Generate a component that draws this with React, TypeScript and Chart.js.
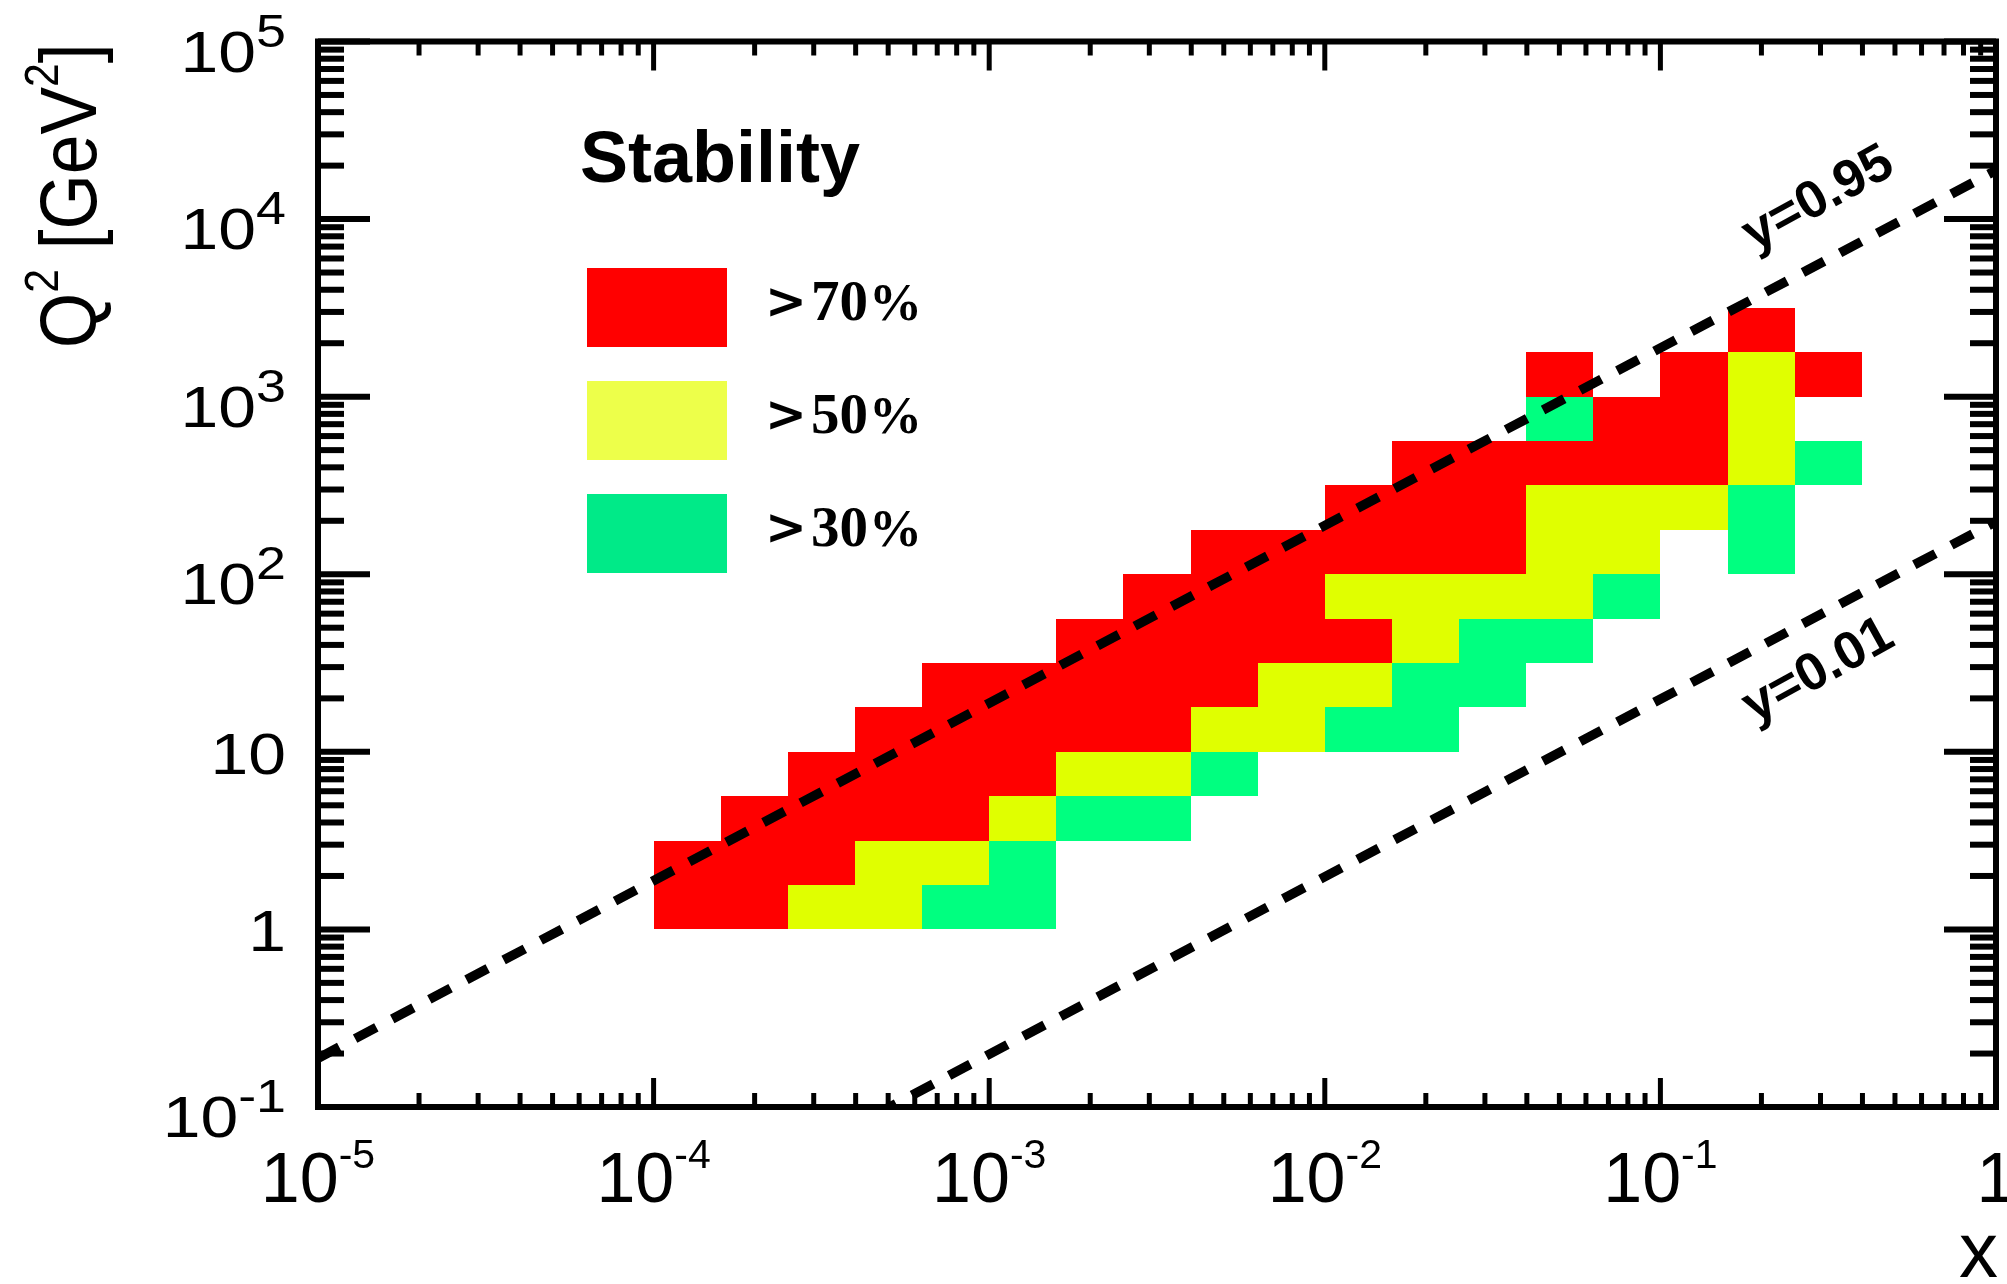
import { useEffect, useRef } from 'react';
import { Chart, registerables } from 'chart.js';

Chart.register(...registerables);

// Bjorken-x bin edges (5 bins per decade)
const xBinEdges = [
  1.0e-4, 1.585e-4, 2.512e-4, 3.981e-4, 6.31e-4,
  1.0e-3, 1.585e-3, 2.512e-3, 3.981e-3, 6.31e-3,
  1.0e-2, 1.585e-2, 2.512e-2, 3.981e-2, 6.31e-2,
  1.0e-1, 1.585e-1, 2.512e-1, 3.981e-1,
];

// Q^2 bin edges in GeV^2 (4 bins per decade)
const q2BinEdges = [
  1, 1.778, 3.162, 5.623, 10, 17.78, 31.62, 56.23, 100, 177.8, 316.2, 562.3, 1000, 1778, 3162,
];

// Stability class per cell, one row per Q^2 bin (lowest first), one entry per x bin.
// 3: > 70 %, 2: > 50 %, 1: > 30 %, 0: empty
const stabilityRows = [
  [3, 3, 2, 2, 1, 1, 0, 0, 0, 0, 0, 0, 0, 0, 0, 0, 0, 0],
  [3, 3, 3, 2, 2, 1, 0, 0, 0, 0, 0, 0, 0, 0, 0, 0, 0, 0],
  [0, 3, 3, 3, 3, 2, 1, 1, 0, 0, 0, 0, 0, 0, 0, 0, 0, 0],
  [0, 0, 3, 3, 3, 3, 2, 2, 1, 0, 0, 0, 0, 0, 0, 0, 0, 0],
  [0, 0, 0, 3, 3, 3, 3, 3, 2, 2, 1, 1, 0, 0, 0, 0, 0, 0],
  [0, 0, 0, 0, 3, 3, 3, 3, 3, 2, 2, 1, 1, 0, 0, 0, 0, 0],
  [0, 0, 0, 0, 0, 0, 3, 3, 3, 3, 3, 2, 1, 1, 0, 0, 0, 0],
  [0, 0, 0, 0, 0, 0, 0, 3, 3, 3, 2, 2, 2, 2, 1, 0, 0, 0],
  [0, 0, 0, 0, 0, 0, 0, 0, 3, 3, 3, 3, 3, 2, 2, 0, 1, 0],
  [0, 0, 0, 0, 0, 0, 0, 0, 0, 0, 3, 3, 3, 2, 2, 2, 1, 0],
  [0, 0, 0, 0, 0, 0, 0, 0, 0, 0, 0, 3, 3, 3, 3, 3, 2, 1],
  [0, 0, 0, 0, 0, 0, 0, 0, 0, 0, 0, 0, 0, 1, 3, 3, 2, 0],
  [0, 0, 0, 0, 0, 0, 0, 0, 0, 0, 0, 0, 0, 3, 0, 3, 2, 3],
  [0, 0, 0, 0, 0, 0, 0, 0, 0, 0, 0, 0, 0, 0, 0, 0, 3, 0],
];

const cellColors: Record<number, string> = { 3: '#ff0000', 2: '#e0ff00', 1: '#00ff80' };
const legendThresholds = ['70', '50', '30'];
const legendColors = ['#ff0000', '#edff4a', '#00ea88'];
const legendTitle = 'Stability';

// Beam energies (GeV) and inelasticity limits for the kinematic lines Q^2 = s x y
const electronEnergy = 18;
const protonEnergy = 275;
const inelasticityCuts = [0.95, 0.01];
const inelasticityLabels = ['y=0.95', 'y=0.01'];

const xRange = [1e-5, 1];
const q2Range = [0.1, 1e5];
const xTickValues = [1e-5, 1e-4, 1e-3, 1e-2, 1e-1, 1];
const xTickBases = ['10', '10', '10', '10', '10', '1'];
const xTickExponents = ['-5', '-4', '-3', '-2', '-1', ''];
const q2TickValues = [0.1, 1, 10, 100, 1e3, 1e4, 1e5];
const q2TickBases = ['10', '1', '10', '10', '10', '10', '10'];
const q2TickExponents = ['-1', '', '', '2', '3', '4', '5'];

const SANS = '"Liberation Sans", Arial, Helvetica, sans-serif';
const SERIF = '"Liberation Serif", "Times New Roman", serif';

const sMandelstam = 4 * electronEnergy * protonEnergy;

function drawPower(
  ctx: CanvasRenderingContext2D,
  x: number,
  baseline: number,
  base: string,
  exp: string,
  o: { fs: number; supFs: number; raise: number; sx: number; sy: number; align: 'center' | 'right' },
) {
  ctx.save();
  const baseFont = `${o.fs}px ${SANS}`;
  const supFont = `${o.supFs}px ${SANS}`;
  ctx.font = baseFont;
  const bw = ctx.measureText(base).width;
  ctx.font = supFont;
  const ew = exp ? ctx.measureText(exp).width : 0;
  const total = (bw + ew) * o.sx;
  const left = o.align === 'center' ? x - total / 2 : x - total;
  ctx.translate(left, baseline);
  ctx.scale(o.sx, o.sy);
  ctx.fillStyle = '#000';
  ctx.textAlign = 'left';
  ctx.textBaseline = 'alphabetic';
  ctx.font = baseFont;
  ctx.fillText(base, 0, 0);
  if (exp) {
    ctx.font = supFont;
    ctx.fillText(exp, bw, -o.raise / o.sy);
  }
  ctx.restore();
}

const cellPlugin = {
  id: 'stabilityCells',
  beforeDatasetsDraw(chart: any) {
    const { ctx, scales } = chart;
    const xs = scales.x;
    const ys = scales.y;
    ctx.save();
    stabilityRows.forEach((row, j) => {
      row.forEach((level, i) => {
        if (!level) return;
        const x0 = Math.round(xs.getPixelForValue(xBinEdges[i]));
        const x1 = Math.round(xs.getPixelForValue(xBinEdges[i + 1]));
        const y0 = Math.round(ys.getPixelForValue(q2BinEdges[j]));
        const y1 = Math.round(ys.getPixelForValue(q2BinEdges[j + 1]));
        ctx.fillStyle = cellColors[level];
        ctx.fillRect(x0, y1, x1 - x0, y0 - y1);
      });
    });
    ctx.restore();
  },
};

const framePlugin = {
  id: 'rootFrame',
  afterDraw(chart: any) {
    const { ctx, chartArea: a, scales } = chart;
    const xs = scales.x;
    const ys = scales.y;
    ctx.save();
    ctx.strokeStyle = '#000';
    ctx.lineCap = 'butt';
    const seg = (x1: number, y1: number, x2: number, y2: number) => {
      ctx.beginPath();
      ctx.moveTo(x1, y1);
      ctx.lineTo(x2, y2);
      ctx.stroke();
    };

    // Q^2 axis ticks (left and right)
    ctx.lineWidth = 6;
    for (let e = -1; e <= 5; e++) {
      for (let m = 1; m <= 9; m++) {
        const v = m * Math.pow(10, e);
        if (v < q2Range[0] * 0.999 || v > q2Range[1] * 1.001) continue;
        const py = ys.getPixelForValue(v);
        const len = m === 1 ? 52 : 26;
        seg(a.left, py, a.left + len, py);
        seg(a.right, py, a.right - len, py);
      }
    }
    // x axis ticks (bottom and top)
    ctx.lineWidth = 5;
    for (let e = -5; e <= 0; e++) {
      for (let m = 1; m <= 9; m++) {
        const v = m * Math.pow(10, e);
        if (v < xRange[0] * 0.999 || v > xRange[1] * 1.001) continue;
        const px = xs.getPixelForValue(v);
        const len = m === 1 ? 29 : 14;
        seg(px, a.bottom, px, a.bottom - len);
        seg(px, a.top, px, a.top + len);
      }
    }
    // frame
    ctx.lineWidth = 6;
    ctx.lineJoin = 'miter';
    ctx.strokeRect(a.left, a.top, a.right - a.left, a.bottom - a.top);

    // x tick labels
    xTickValues.forEach((v, k) => {
      drawPower(ctx, xs.getPixelForValue(v), 1202, xTickBases[k], xTickExponents[k], {
        fs: 70, supFs: 41, raise: 34, sx: 1, sy: 1, align: 'center',
      });
    });
    // Q^2 tick labels
    q2TickValues.forEach((v, k) => {
      const py = ys.getPixelForValue(v);
      const hasExp = q2TickExponents[k] !== '';
      drawPower(ctx, a.left - 32, py + (hasExp ? 30 : 22), q2TickBases[k], q2TickExponents[k], {
        fs: 58, supFs: 46, raise: 25, sx: 1.17, sy: 1, align: 'right',
      });
    });

    // axis titles
    ctx.fillStyle = '#000';
    ctx.font = `78px ${SANS}`;
    ctx.textAlign = 'right';
    ctx.textBaseline = 'alphabetic';
    ctx.fillText('x', a.right + 2, 1277);

    ctx.save();
    ctx.translate(96, a.top + 2);
    ctx.rotate(-Math.PI / 2);
    ctx.scale(0.89, 1);
    const big = `80px ${SANS}`;
    const sup = `48px ${SANS}`;
    const parts: [string, boolean][] = [['Q', false], ['2', true], [' [GeV', false], ['2', true], [']', false]];
    let total = 0;
    parts.forEach(([t, s]) => { ctx.font = s ? sup : big; total += ctx.measureText(t).width; });
    let cx = -total;
    ctx.textAlign = 'left';
    parts.forEach(([t, s]) => {
      ctx.font = s ? sup : big;
      ctx.fillText(t, cx, s ? -38 : 0);
      cx += ctx.measureText(t).width;
    });
    ctx.restore();

    // kinematic line labels
    inelasticityCuts.forEach((yc, k) => {
      const xa = 0.3;
      const px = xs.getPixelForValue(xa);
      const py = ys.getPixelForValue(sMandelstam * yc * xa);
      const off = k === 0 ? -64 : 57;
      ctx.save();
      ctx.translate(px - 2, py + off);
      ctx.rotate((-29 * Math.PI) / 180);
      ctx.font = `bold 53px ${SANS}`;
      ctx.textAlign = 'center';
      ctx.textBaseline = 'middle';
      ctx.fillText(inelasticityLabels[k], 0, 0);
      ctx.restore();
    });

    // legend
    ctx.font = `bold 72px ${SANS}`;
    ctx.textAlign = 'left';
    ctx.textBaseline = 'alphabetic';
    ctx.fillText(legendTitle, 580, 182);
    const boxTops = [268, 381, 494];
    legendThresholds.forEach((pct, k) => {
      const top = boxTops[k];
      const base = top + 52;
      ctx.fillStyle = legendColors[k];
      ctx.fillRect(587, top, 140, 79);
      ctx.fillStyle = '#000';
      ctx.font = `bold 50px "DejaVu Sans", ${SANS}`;
      ctx.fillText('>', 765, base - 2);
      ctx.font = `bold 57px ${SERIF}`;
      ctx.fillText(pct, 811, base);
      ctx.font = `bold 53px ${SERIF}`;
      ctx.fillText('%', 869, base);
    });

    ctx.restore();
  },
};

export default function App() {
  const canvasRef = useRef<HTMLCanvasElement | null>(null);

  useEffect(() => {
    const canvas = canvasRef.current;
    if (!canvas) return;
    const lineData = inelasticityCuts.map((yc) =>
      xRange.map((x) => ({ x, y: sMandelstam * yc * x })),
    );
    const chart = new Chart(canvas, {
      type: 'scatter',
      data: {
        datasets: lineData.map((pts, k) => ({
          label: inelasticityLabels[k],
          data: pts,
          showLine: true,
          borderColor: '#000',
          borderWidth: 9.5,
          borderDash: [24, 18],
          borderCapStyle: 'butt',
          pointRadius: 0,
          fill: false,
        })),
      },
      options: {
        responsive: false,
        maintainAspectRatio: false,
        devicePixelRatio: 1,
        animation: false,
        events: [],
        layout: { padding: { left: 318, right: 11, top: 41.5, bottom: 177 } },
        scales: {
          x: { type: 'logarithmic', min: xRange[0], max: xRange[1], display: false },
          y: { type: 'logarithmic', min: q2Range[0], max: q2Range[1], display: false },
        },
        plugins: { legend: { display: false }, tooltip: { enabled: false }, title: { display: false } },
      } as any,
      plugins: [cellPlugin, framePlugin],
    });
    return () => chart.destroy();
  }, []);

  return (
    <div style={{ position: 'fixed', left: 0, top: 0, width: 2007, height: 1284, background: '#fff' }}>
      <canvas ref={canvasRef} width={2007} height={1284} style={{ display: 'block' }} />
    </div>
  );
}
